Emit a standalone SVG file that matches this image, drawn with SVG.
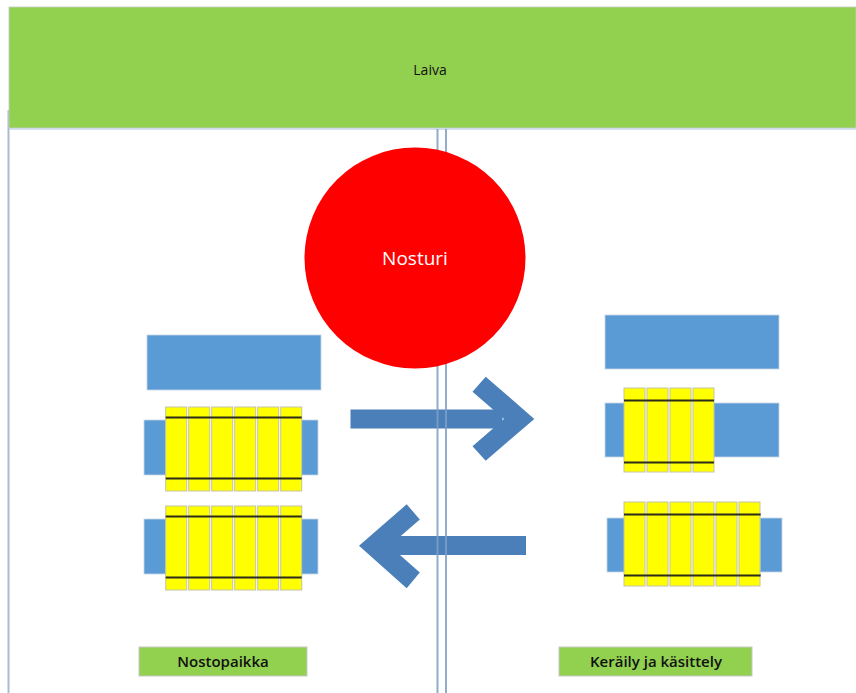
<svg xmlns="http://www.w3.org/2000/svg" width="856" height="693" viewBox="0 0 856 693">
  <style>
    .lbl { font-family: "Open Sans", "Liberation Sans", sans-serif; fill: #111; }
    .green { fill: #92D050; }
    .blue { fill: #5B9BD5; stroke: #c9d6e6; stroke-width: 0.8; }
    .slat { fill: #FFFF00; stroke: #c4c4a8; stroke-width: 1; }
    .band { stroke: #2b2b1a; stroke-width: 2; }
    .arrow { fill: #4A7FBA; }
    .rail { stroke: #7f9fc4; stroke-width: 2; }
  </style>
  <defs>
    <!-- one yellow slat, positioned with <use> -->
    <rect id="slat" x="0" y="0" width="21" height="84" class="slat"/>
  </defs>

  <rect width="856" height="693" fill="#ffffff"/>

  <!-- left frame line -->
  <line x1="8.5" y1="110" x2="8.5" y2="693" stroke="#a9bcd2" stroke-width="2"/>

  <!-- ship -->
  <g id="laiva">
    <rect x="9" y="7" width="847" height="121" class="green" stroke="#c8c8c8" stroke-width="0.8"/>
    <line x1="9" y1="129" x2="856" y2="129" stroke="#c7d6e8" stroke-width="1.5"/>
    <text x="430" y="75" class="lbl" font-size="14" text-anchor="middle">Laiva</text>
  </g>

  <!-- arrows -->
  <g id="connectors">
    <g id="arrow-right">
      <rect x="350.5" y="409.5" width="152" height="19" class="arrow"/>
      <polygon class="arrow" points="485.7,376.7 534.3,419 485.7,460.7 472.5,446.3 504,419 472.5,391.7"/>
    </g>
    <g id="arrow-left">
      <rect x="380" y="536" width="146" height="19" class="arrow"/>
      <polygon class="arrow" points="406.7,504.3 359,545.7 406.7,588.3 419.8,572.5 389.5,545.7 419.8,519.4"/>
    </g>
  </g>

  <!-- quay edge double line -->
  <g id="quay-edge">
    <line x1="437.5" y1="129" x2="437.5" y2="693" class="rail" opacity="0.85"/>
    <line x1="446" y1="129" x2="446" y2="693" class="rail" opacity="0.85"/>
  </g>

  <!-- crane -->
  <g id="nosturi">
    <circle cx="415" cy="258" r="110.5" fill="#FF0000"/>
    <text x="415" y="265" class="lbl" font-size="19" style="fill:#ffffff" text-anchor="middle">Nosturi</text>
  </g>

  <!-- lifting area -->
  <g id="nostopaikka-area">
    <rect x="147" y="335" width="174" height="55" class="blue"/>

    <g id="stack-left-1">
      <rect x="144" y="420" width="22" height="55" class="blue"/>
      <rect x="301" y="420" width="17" height="55" class="blue"/>
      <use href="#slat" x="165.7" y="407"/>
      <use href="#slat" x="188.7" y="407"/>
      <use href="#slat" x="211.7" y="407"/>
      <use href="#slat" x="234.7" y="407"/>
      <use href="#slat" x="257.7" y="407"/>
      <use href="#slat" x="280.7" y="407"/>
      <line x1="165.7" y1="417.5" x2="301.7" y2="417.5" class="band"/>
      <line x1="165.7" y1="478.5" x2="301.7" y2="478.5" class="band"/>
    </g>

    <g id="stack-left-2">
      <rect x="144" y="519" width="22" height="55" class="blue"/>
      <rect x="301" y="519" width="17" height="55" class="blue"/>
      <use href="#slat" x="165.7" y="506"/>
      <use href="#slat" x="188.7" y="506"/>
      <use href="#slat" x="211.7" y="506"/>
      <use href="#slat" x="234.7" y="506"/>
      <use href="#slat" x="257.7" y="506"/>
      <use href="#slat" x="280.7" y="506"/>
      <line x1="165.7" y1="516.5" x2="301.7" y2="516.5" class="band"/>
      <line x1="165.7" y1="577.5" x2="301.7" y2="577.5" class="band"/>
    </g>
  </g>

  <!-- collection and handling area -->
  <g id="keraily-area">
    <rect x="605" y="315" width="174" height="54" class="blue"/>

    <g id="stack-right-1">
      <rect x="605" y="403" width="20" height="54" class="blue"/>
      <rect x="713" y="403" width="66" height="54" class="blue"/>
      <use href="#slat" x="624" y="388"/>
      <use href="#slat" x="647" y="388"/>
      <use href="#slat" x="670" y="388"/>
      <use href="#slat" x="693" y="388"/>
      <line x1="624" y1="400.5" x2="714" y2="400.5" class="band"/>
      <line x1="624" y1="462.5" x2="714" y2="462.5" class="band"/>
    </g>

    <g id="stack-right-2">
      <rect x="607" y="518" width="18" height="54" class="blue"/>
      <rect x="760" y="518" width="22" height="54" class="blue"/>
      <use href="#slat" x="624" y="502"/>
      <use href="#slat" x="647" y="502"/>
      <use href="#slat" x="670" y="502"/>
      <use href="#slat" x="693" y="502"/>
      <use href="#slat" x="716" y="502"/>
      <use href="#slat" x="739" y="502"/>
      <line x1="624" y1="514.5" x2="760.7" y2="514.5" class="band"/>
      <line x1="624" y1="575.5" x2="760.7" y2="575.5" class="band"/>
    </g>
  </g>

  <!-- area labels -->
  <g id="label-nostopaikka">
    <rect x="139" y="647" width="168" height="29" class="green" stroke="#c8c8c8" stroke-width="1"/>
    <text x="223" y="667" class="lbl" font-size="15" font-weight="600" text-anchor="middle">Nostopaikka</text>
  </g>
  <g id="label-keraily">
    <rect x="559" y="647" width="193" height="29" class="green" stroke="#c8c8c8" stroke-width="1"/>
    <text x="656" y="667" class="lbl" font-size="15" font-weight="600" text-anchor="middle">Keräily ja käsittely</text>
  </g>
</svg>
